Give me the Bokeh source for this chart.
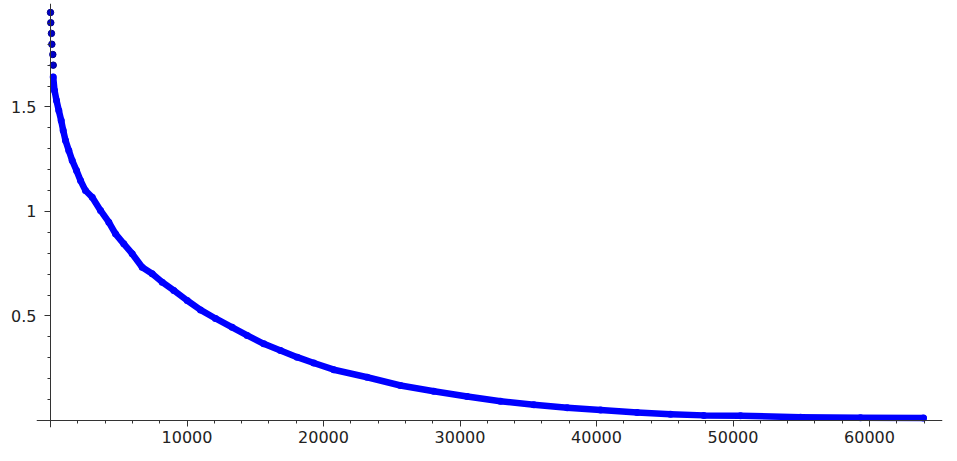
from bokeh.plotting import figure
from bokeh.models import LinearAxis, FixedTicker, Range1d
from bokeh.embed import file_html
from bokeh.resources import INLINE

# isolated leading points (near x = 0)
head_x = [0, 20, 70, 100, 170, 200]
head_y = [1.952, 1.903, 1.852, 1.800, 1.751, 1.700]

# dense decaying point cloud
curve_x = [198, 293, 440, 608, 784, 930, 1099, 1341, 1590, 1905, 2198, 2564,
           3055, 3663, 4271, 4762, 5370, 5985, 6718, 7451, 8183, 9033, 10015,
           10989, 12088, 13311, 14410, 15626, 16850, 18073, 19290, 20755,
           23201, 25641, 28081, 30527, 32967, 35407, 37853, 40293, 42979,
           45421, 47861, 50550, 54945, 59340, 63956]
curve_y = [1.643, 1.579, 1.531, 1.483, 1.435, 1.388, 1.340, 1.292, 1.244,
           1.196, 1.148, 1.100, 1.068, 1.005, 0.949, 0.893, 0.845, 0.798,
           0.733, 0.702, 0.662, 0.622, 0.574, 0.529, 0.488, 0.446, 0.407,
           0.367, 0.335, 0.303, 0.275, 0.243, 0.207, 0.1675, 0.140, 0.1148,
           0.0923, 0.0751, 0.0608, 0.050, 0.0385, 0.0300, 0.0245, 0.0225,
           0.0158, 0.0129, 0.012]

x_major = [10000, 20000, 30000, 40000, 50000, 60000]
x_minor = [v * 2000 for v in range(1, 33)]
y_major = [0.5, 1.0, 1.5]
y_minor = [round(v * 0.1, 1) for v in range(1, 20)]
y_labels = {0.5: "0.5", 1: "1", 1.5: "1.5"}

p = figure(width=950, height=458, output_backend="svg", toolbar_location=None,
           x_range=Range1d(-1026, 65348), y_range=Range1d(-0.0335, 1.995),
           x_axis_location=None, y_axis_location=None,
           min_border_left=36, min_border_right=8, min_border_top=3,
           min_border_bottom=31)
p.outline_line_color = None
p.grid.grid_line_color = None
p.background_fill_color = "white"
p.border_fill_color = "white"

AX = "#333333"


def lines_style(ax):
    ax.axis_line_color = AX
    ax.axis_line_width = 1
    ax.major_tick_in = 0
    ax.major_tick_out = 6
    ax.minor_tick_in = 0
    ax.minor_tick_out = 3
    ax.major_tick_line_color = AX
    ax.minor_tick_line_color = AX
    ax.major_label_text_color = None


def label_style(ax, standoff):
    ax.axis_line_color = None
    ax.major_tick_line_color = None
    ax.minor_tick_line_color = None
    ax.major_tick_in = 0
    ax.major_tick_out = 0
    ax.minor_tick_in = 0
    ax.minor_tick_out = 0
    ax.major_label_text_font = "DejaVu Sans"
    ax.major_label_text_font_size = "16px"
    ax.major_label_text_color = "#222222"
    ax.major_label_standoff = standoff


# axes crossing at the origin (lines and ticks)
xaxis = LinearAxis(fixed_location=0,
                   ticker=FixedTicker(ticks=x_major, minor_ticks=x_minor))
lines_style(xaxis)
p.add_layout(xaxis, "below")

yaxis = LinearAxis(fixed_location=0,
                   ticker=FixedTicker(ticks=y_major, minor_ticks=y_minor))
lines_style(yaxis)
p.add_layout(yaxis, "left")

# tick labels
xlab = LinearAxis(ticker=FixedTicker(ticks=x_major, minor_ticks=[]))
label_style(xlab, 3)
p.add_layout(xlab, "below")

ylab = LinearAxis(ticker=FixedTicker(ticks=y_major, minor_ticks=[]),
                  major_label_overrides=y_labels)
label_style(ylab, 0)
p.add_layout(ylab, "left")

p.line(curve_x, curve_y, line_width=6.5, line_color="#0000ff",
       line_join="round", line_cap="round")
p.scatter(curve_x, curve_y, size=7, fill_color="#0000ff", line_color=None)
p.scatter(head_x, head_y, size=6.5, fill_color="#0000c8",
          line_color="#00008a", line_width=1)

open("out.html", "w").write(file_html(p, INLINE))
